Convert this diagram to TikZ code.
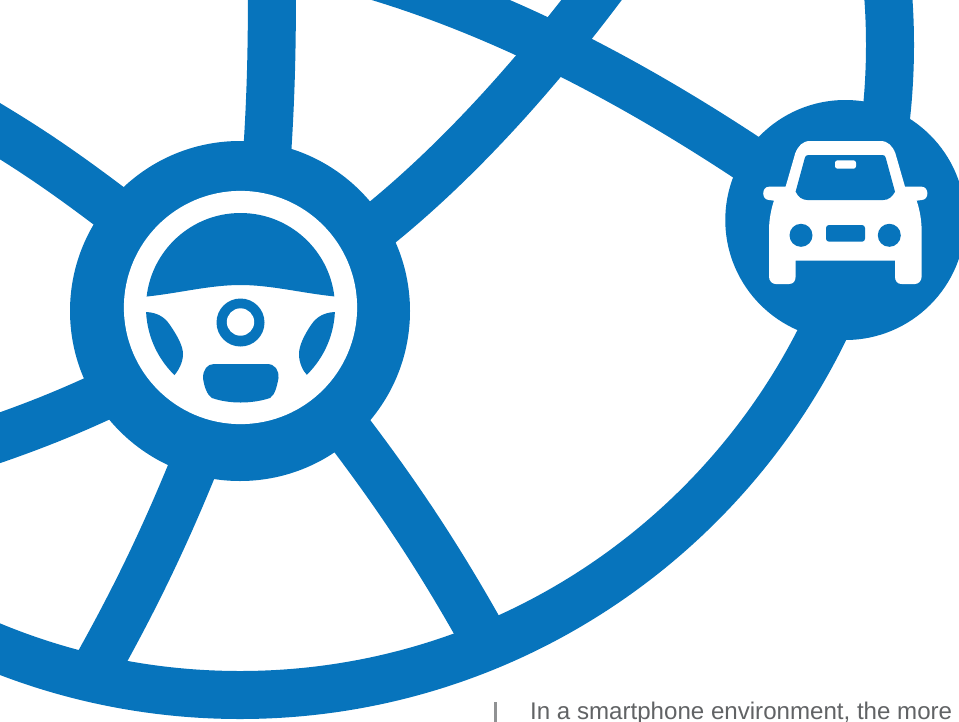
\documentclass[tikz,border=0pt]{standalone}
\usepackage{fontspec}
\setmainfont{Liberation Sans}
\usepackage{xcolor}
\definecolor{roadblue}{HTML}{0774BC}
\definecolor{captiongray}{HTML}{616365}
\tikzset{
  road/.style={draw=roadblue,line width=48pt},
  iconwhite/.style={fill=white,draw=none},
  iconblue/.style={fill=roadblue,draw=none},
}
\begin{document}
\begin{tikzpicture}[x=1pt,y=-1pt]
\useasboundingbox (0,0) rectangle (959,721);
\clip (0,0) rectangle (959,721);
\fill[white] (0,0) rectangle (959,721);
\coordinate (wheel) at (240,311);
\coordinate (rim) at (240.5,307.5);
\coordinate (car) at (845.3,220);
% roads
\draw[road] (-30,113) .. controls (30,149) and (80,178) .. (wheel);
\draw[road] (272,-20) .. controls (272,50) and (271,100) .. (266,170);
\draw[road] (-30,448) .. controls (30,428) and (70,412) .. (120,388);
\draw[road] (200,450) .. controls (170,525) and (140,590) .. (95,670);
\draw[road] (340,420) .. controls (390,485) and (435,550) .. (485,640);
\draw[road] (360,240) .. controls (445,175) and (528,85) .. (603,-15);
\draw[road] (365,-27) .. controls (500,12) and (640,83) .. (790,187);
\draw[road] (240,45) circle (650);
% hubs
\fill[roadblue] (wheel) circle (170);
\fill[roadblue] (car) circle (120);
% steering wheel
\fill[white] (rim) circle (116.6);
\begin{scope}
\clip (rim) circle (94.5);
\fill[iconblue] (130,296.5) -- (147,296.5) .. controls (180,293) and (210,285) .. (240.5,285) .. controls (271,285) and (301,293) .. (335,296.5) -- (350,296.5) -- (350,200) -- (130,200) -- cycle;
\fill[iconblue] (130,312) -- (146,312) .. controls (156,312.5) and (164,316) .. (170,325) .. controls (176,334) and (183,345) .. (183,354) .. controls (183,363) and (178,371) .. (174.5,375) -- (150,400) -- (130,400) -- cycle;
\fill[iconblue] (351,312) -- (335,312) .. controls (325,312.5) and (317,316) .. (311,325) .. controls (305,334) and (299,345) .. (299,354) .. controls (299,363) and (303,371) .. (307,375) -- (331,400) -- (351,400) -- cycle;
\end{scope}
\fill[iconblue] (240.5,322.5) circle (24);
\fill[white] (240.5,322) circle (13.7);
\fill[iconblue] (214,364) -- (267,364) .. controls (275,364) and (279,370) .. (278.5,378) .. controls (277,386) and (275,395) .. (270,398) .. controls (252,404) and (229,404) .. (212,398) .. controls (207,395) and (204,386) .. (203,378) .. controls (203,370) and (207,364) .. (214,364) -- cycle;
% car
\begin{scope}[shift={(car)}]
\fill[iconwhite] (-35,-79) -- (35,-79) .. controls (43,-79) and (47,-74) .. (50,-67) -- (59.7,-33.3) -- (76.3,-33.3)
  .. controls (84,-33.3) and (84,-20) .. (76.3,-20) -- (71.3,-19.3) .. controls (74,-12) and (76.3,0) .. (76.3,10) -- (76.3,56.7)
  .. controls (76.3,61) and (73,64) .. (69.7,64) -- (56.3,64) .. controls (52,64) and (49.7,61) .. (49.7,56.7) -- (49.7,40.7)
  -- (-49.7,40.7) -- (-49.7,56.7) .. controls (-49.7,61) and (-52,64) .. (-56.3,64) -- (-69.7,64) .. controls (-73,64) and (-76.3,61) .. (-76.3,56.7)
  -- (-76.3,10) .. controls (-76.3,0) and (-74,-12) .. (-71.3,-19.3) -- (-76.3,-20) .. controls (-84,-20) and (-84,-33.3) .. (-76.3,-33.3)
  -- (-59.7,-33.3) -- (-50,-67) .. controls (-47,-74) and (-43,-79) .. (-35,-79) -- cycle;
\fill[iconblue] (-37,-65) -- (37,-65) .. controls (39,-65) and (40,-64) .. (40.5,-62) -- (49.7,-28.3) .. controls (47,-23) and (43,-20) .. (38,-20)
  -- (-38,-20) .. controls (-43,-20) and (-47,-23) .. (-49.7,-28.3) -- (-40.5,-62) .. controls (-40,-64) and (-39,-65) .. (-37,-65) -- cycle;
\fill[iconwhite,rounded corners=2.5pt] (-10.3,-59.7) rectangle (10.7,-51.3);
\fill[iconblue] (-44.3,15.3) circle (11.5);
\fill[iconblue] (44,15.3) circle (11.5);
\fill[iconblue,rounded corners=3pt] (-19.3,5) rectangle (19.7,21.7);
\end{scope}
% caption
\draw[captiongray!70,line width=3pt] (495,702) -- (495,725);
\node[anchor=base west,inner sep=0pt,text=captiongray,font=\fontsize{24.1}{28}\selectfont] (caption) at (530,719.5) {In a smartphone environment, the more};
\end{tikzpicture}
\end{document}
